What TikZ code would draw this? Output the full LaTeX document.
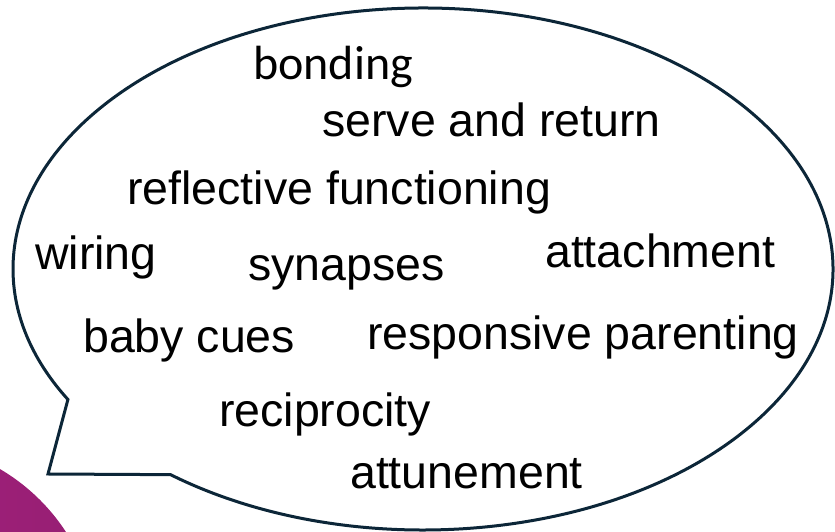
\documentclass[tikz,border=0pt]{standalone}
\usepackage{fontspec}
\setmainfont{Liberation Sans}
\newfontfamily\calib{Carlito}
\definecolor{bubbleline}{RGB}{12,38,56}
\definecolor{purpleL}{RGB}{172,36,130}
\definecolor{purpleR}{RGB}{150,30,115}
\tikzset{
  word/.style={anchor=base west, inner sep=0pt, font=\fontsize{46.5}{52}\selectfont, text=black},
  bubble/.style={draw=bubbleline, line width=3pt, fill=white, line join=miter}
}
\begin{document}
\begin{tikzpicture}[x=1pt,y=1pt]
\useasboundingbox (0,0) rectangle (835,532);
% purple disc bottom-left
\begin{scope}
\clip (0,0) rectangle (835,532);
\shade[left color=purpleL, right color=purpleR] (-100,-108) circle (198);
\end{scope}
% speech bubble
\coordinate (ctr) at (423,263);
\coordinate (tailtip) at (48,58);
\draw[bubble] (ctr) ++(232:410pt and 261pt)
  arc[start angle=232, end angle=570, x radius=410pt, y radius=261pt]
  -- (tailtip) -- cycle;
% words
\node[word, font=\calib\fontsize{48}{54}\selectfont] (bonding) at (253,452) {bonding};
\node[word] (serve) at (322,395) {serve and return};
\node[word] (reflect) at (127,327) {reflective functioning};
\node[word] (wiring) at (35,262) {wiring};
\node[word] (syn) at (248,251) {synapses};
\node[word] (attach) at (545,264) {attachment};
\node[word] (baby) at (83,179) {baby cues};
\node[word] (resp) at (367,182) {responsive parenting};
\node[word] (recip) at (219,105) {reciprocity};
\node[word] (attune) at (350,43) {attunement};
\end{tikzpicture}
\end{document}
